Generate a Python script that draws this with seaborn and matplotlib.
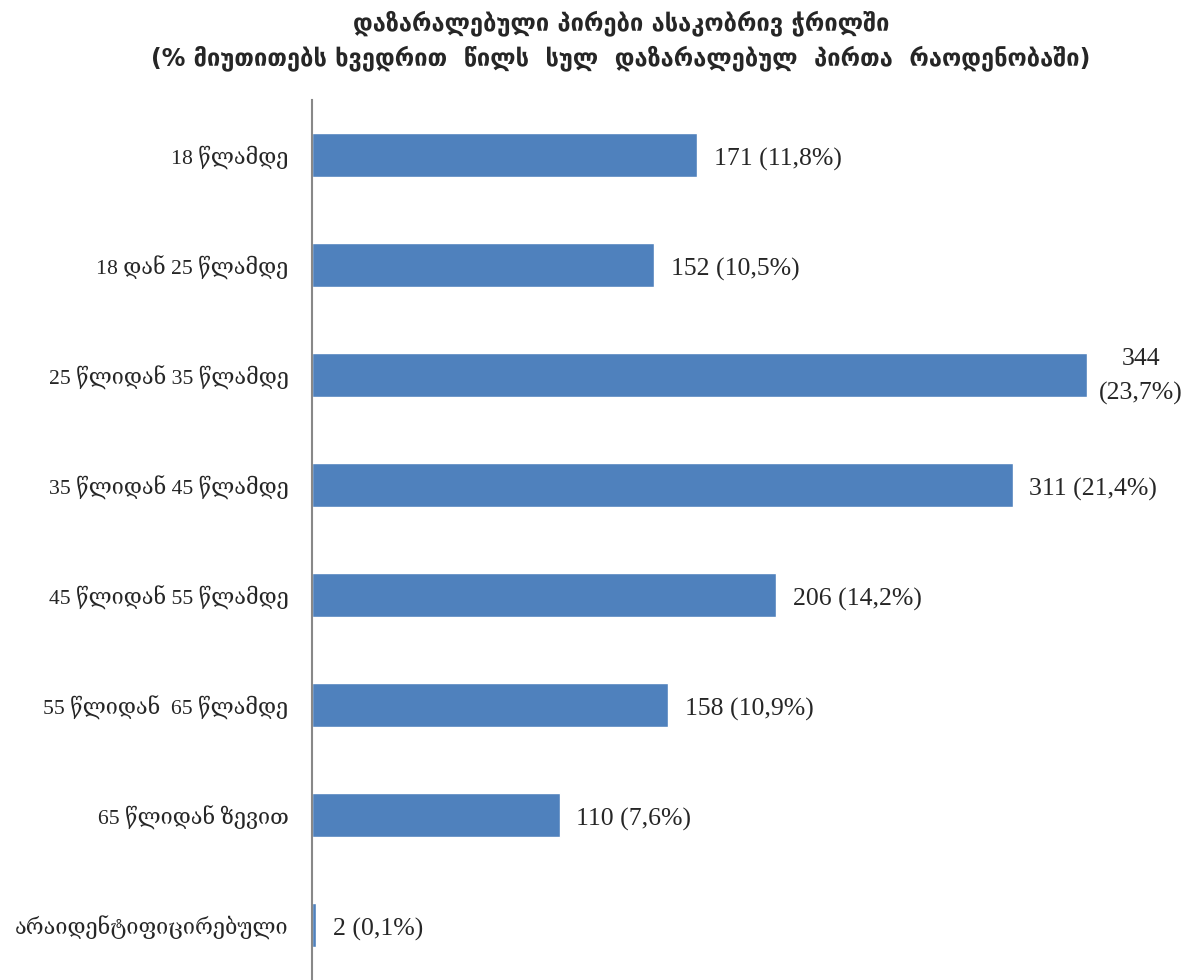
import numpy as np
import pandas as pd
import matplotlib
matplotlib.use("Agg")
import matplotlib.pyplot as plt
import seaborn as sns

# მონაცემები
categories = ["18 წლამდე", "18 დან 25 წლამდე", "25 წლიდან 35 წლამდე",
              "35 წლიდან 45 წლამდე", "45 წლიდან 55 წლამდე",
              "55 წლიდან  65 წლამდე", "65 წლიდან ზევით",
              "არაიდენტიფიცირებული"]
counts = [171, 152, 344, 311, 206, 158, 110, 2]
percents = ["11,8%", "10,5%", "23,7%", "21,4%", "14,2%", "10,9%", "7,6%", "0,1%"]

title = ("დაზარალებული პირები ასაკობრივ ჭრილში\n"
         "(% მიუთითებს ხვედრით  წილს  სულ  დაზარალებულ  პირთა  რაოდენობაში)")

sns.set_style("white")
plt.rcParams['font.family'] = ['Liberation Serif', 'DejaVu Serif', 'DejaVu Sans']

df = pd.DataFrame({"cat": categories, "n": counts})

fig = plt.figure(figsize=(11.94, 9.8), dpi=100)
ax = fig.add_axes([0.2613, 0.0, 0.7387, 0.898])
sns.barplot(data=df, y="cat", x="n", orient="h", color="#4F81BD",
            saturation=1, width=0.4, ax=ax)

ax.set_xlim(0, 391.5)
ax.set_ylim(7.5, -0.5)
ax.set_xlabel("")
ax.set_ylabel("")
ax.set_xticks([])
ax.tick_params(axis="y", length=0, labelsize=15.6, pad=17)
for s in ["top", "right", "bottom"]:
    ax.spines[s].set_visible(False)
ax.spines["left"].set_color("#888888")
ax.spines["left"].set_linewidth(1.5)

for i, (n, p) in enumerate(zip(counts, percents)):
    if n == max(counts):
        ax.annotate(f"{n}\n({p})", (n, i), xytext=(39, -1), textcoords="offset points",
                    ha="center", va="center", fontsize=18.5, linespacing=1.7)
    else:
        ax.annotate(f"{n} ({p})", (n, i), xytext=(12, -1.5), textcoords="offset points",
                    ha="left", va="center_baseline", fontsize=18.5)

fig.text(0.52, 0.99, title, ha="center", va="top", fontsize=17,
         fontweight="bold", linespacing=1.45,
         family=['DejaVu Sans', 'DejaVu Serif'])

fig.savefig("out.png", dpi=100)
